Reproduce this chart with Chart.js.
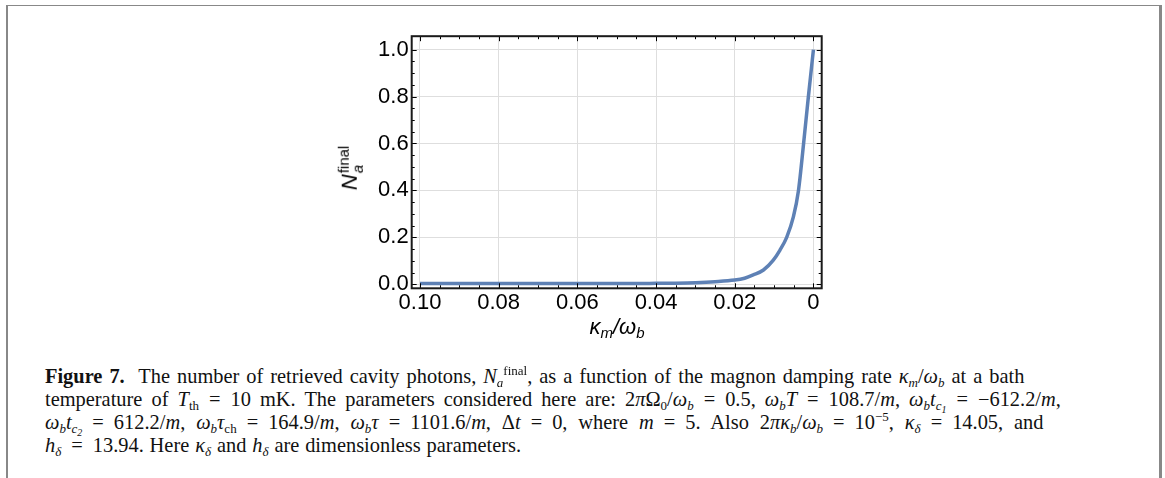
<!DOCTYPE html>
<html lang="en">
<head>
  <meta charset="UTF-8" />
  <title>Figure 7</title>
  <script src="https://cdn.jsdelivr.net/npm/chart.js"></script>
  <style>
    body {
      margin: 0;
      width: 1165px;
      height: 478px;
      overflow: hidden;
      background: #fff;
      position: relative;
      font-family: 'Liberation Sans', Arial, sans-serif;
    }
    .page-frame {
      position: absolute;
      left: 6px;
      top: 5px;
      width: 1151px;
      height: 500px;
      border-left: 2px solid #888;
      border-top: 1px solid #888;
      border-right: 3px solid #888;
    }
    #wrap {
      position: absolute;
      left: 300px;
      top: 20px;
      width: 560px;
      height: 300px;
    }
    .axis-title {
      position: absolute;
      white-space: nowrap;
      color: #000;
      line-height: 1;
      transform: translate(-50%, -50%);
    }
    .ytitle {
      left: 351px;
      top: 168px;
      font-size: 22px;
      transform: translate(-50%, -50%) rotate(-90deg);
    }
    .xtitle {
      left: 617px;
      top: 328px;
      font-size: 22px;
      font-style: italic;
    }
    .stack {
      display: inline-block;
      vertical-align: middle;
      line-height: 0.95;
      font-size: 15px;
      margin-left: 1px;
    }
    .stack span { display: block; }
    .xtitle sub { font-size: 15px; vertical-align: -4px; }
    .caption {
      position: absolute;
      left: 45px;
      top: 365px;
      font-family: 'Liberation Serif', 'Times New Roman', serif;
      font-size: 20.4px;
      line-height: 23px;
      color: #111;
    }
    .caption div { white-space: nowrap; }
    .caption .l1 { word-spacing: 1.9px; }
    .caption .l2 { word-spacing: 4px; }
    .caption .l3 { word-spacing: 5.8px; }
    .caption .l4 { word-spacing: 0.8px; }
    .caption sub, .caption sup { font-size: 13px; line-height: 0; position: relative; vertical-align: baseline; word-spacing: 0; }
    .caption sub { top: 4px; }
    .caption sup { top: -8px; }
    .caption sub sub { font-size: 10px; top: 3px; }
    .eq { margin: 0 10px; }
  </style>
</head>
<body>
  <div class="page-frame"></div>
  <div id="wrap"><canvas id="plot" width="560" height="300"></canvas></div>

  <div class="axis-title ytitle"><i>N</i><span class="stack"><span>final</span><span><i>a</i></span></span></div>
  <div class="axis-title xtitle">κ<sub>m</sub>/ω<sub>b</sub></div>

  <div class="caption">
    <div class="l1"><b>Figure 7.</b>&nbsp; The number of retrieved cavity photons, <i>N<sub>a</sub></i><sup>final</sup>, as a function of the magnon damping rate <i>κ<sub>m</sub></i>/<i>ω<sub>b</sub></i> at a bath</div>
    <div class="l2">temperature of <i>T</i><sub>th</sub><span class="eq">=</span>10 mK. The parameters considered here are: 2<i>π</i>Ω<sub>0</sub>/<i>ω<sub>b</sub></i><span class="eq">=</span>0.5, <i>ω<sub>b</sub>T</i><span class="eq">=</span>108.7/<i>m</i>, <i>ω<sub>b</sub>t<sub>c<sub>1</sub></sub></i><span class="eq">=</span>−612.2/<i>m</i>,</div>
    <div class="l3"><i>ω<sub>b</sub>t<sub>c<sub>2</sub></sub></i><span class="eq">=</span>612.2/<i>m</i>, <i>ω<sub>b</sub>τ</i><sub>ch</sub><span class="eq">=</span>164.9/<i>m</i>, <i>ω<sub>b</sub>τ</i><span class="eq">=</span>1101.6/<i>m</i>, Δ<i>t</i><span class="eq">=</span>0, where <i>m</i><span class="eq">=</span>5. Also 2<i>πκ<sub>b</sub></i>/<i>ω<sub>b</sub></i><span class="eq">=</span>10<sup>−5</sup>, <i>κ<sub>δ</sub></i><span class="eq">=</span>14.05, and</div>
    <div class="l4"><i>h<sub>δ</sub></i><span class="eq">=</span>13.94. Here <i>κ<sub>δ</sub></i> and <i>h<sub>δ</sub></i> are dimensionless parameters.</div>
  </div>

  <script>
    // kappa_m / omega_b  vs  N_a^final
    const kappa = [0.100, 0.090, 0.080, 0.070, 0.060, 0.050, 0.045, 0.040, 0.035, 0.030, 0.025, 0.020,
                   0.0175, 0.0153, 0.0127, 0.0102, 0.0085, 0.0068, 0.0051, 0.0038, 0.0025, 0.0013, 0.0];
    const photons = [0.003, 0.003, 0.003, 0.003, 0.003, 0.003, 0.003, 0.004, 0.005, 0.007, 0.011, 0.018,
                     0.026, 0.040, 0.061, 0.103, 0.146, 0.200, 0.287, 0.400, 0.600, 0.797, 1.0];

    const xTicks = [0, 0.02, 0.04, 0.06, 0.08, 0.10];
    const xTickLabels = ['0', '0.02', '0.04', '0.06', '0.08', '0.10'];
    const yTicks = [0, 0.2, 0.4, 0.6, 0.8, 1.0];
    const yTickLabels = ['0.0', '0.2', '0.4', '0.6', '0.8', '1.0'];

    const xMinor = [];
    for (let i = 0; i <= 20; i++) xMinor.push(i * 0.005);
    const yMinor = [];
    for (let i = 0; i <= 20; i++) yMinor.push(i * 0.05);

    // frame + inward ticks on all four sides
    const frameTicks = {
      id: 'frameTicks',
      afterDatasetsDraw(chart) {
        const { ctx, chartArea: a, scales: { x, y } } = chart;
        ctx.save();
        ctx.strokeStyle = '#000';
        ctx.lineWidth = 1;
        ctx.beginPath();
        xMinor.forEach((v, i) => {
          const p = Math.round(x.getPixelForValue(v)) + 0.5;
          const len = i % 4 === 0 ? 5 : 3;
          ctx.moveTo(p, a.bottom); ctx.lineTo(p, a.bottom - len);
          ctx.moveTo(p, a.top); ctx.lineTo(p, a.top + len);
        });
        yMinor.forEach((v, i) => {
          const p = Math.round(y.getPixelForValue(v)) + 0.5;
          const len = i % 4 === 0 ? 5 : 3;
          ctx.moveTo(a.left, p); ctx.lineTo(a.left + len, p);
          ctx.moveTo(a.right, p); ctx.lineTo(a.right - len, p);
        });
        ctx.stroke();
        ctx.lineWidth = 2;
        ctx.strokeStyle = '#1a1a1a';
        ctx.strokeRect(a.left, a.top, a.right - a.left, a.bottom - a.top);
        ctx.restore();
      }
    };

    const tickFont = { family: "'Liberation Sans', Arial, sans-serif", size: 22 };

    new Chart(document.getElementById('plot'), {
      type: 'line',
      data: {
        datasets: [{
          data: kappa.map((k, i) => ({ x: k, y: photons[i] })),
          borderColor: '#5e81b5',
          borderWidth: 3.5,
          pointRadius: 0,
          fill: false,
          cubicInterpolationMode: 'monotone'
        }]
      },
      options: {
        responsive: false,
        animation: false,
        devicePixelRatio: 1,
        layout: { padding: { top: 15.7, right: 38.3, left: 0, bottom: 0 } },
        plugins: { legend: { display: false }, tooltip: { enabled: false } },
        scales: {
          x: {
            type: 'linear',
            reverse: true,
            min: -0.0021,
            max: 0.1021,
            afterBuildTicks: s => { s.ticks = xTicks.map(v => ({ value: v })); },
            afterFit: s => { s.height = 31.7; },
            ticks: {
              font: tickFont,
              color: '#000',
              padding: 1,
              maxRotation: 0,
              callback: (v) => xTickLabels[xTicks.indexOf(v)]
            },
            grid: { color: '#dedede', lineWidth: 1, drawTicks: false },
            border: { display: false }
          },
          y: {
            min: -0.017,
            max: 1.057,
            afterBuildTicks: s => { s.ticks = yTicks.map(v => ({ value: v })); },
            afterFit: s => { s.width = 111.7; },
            ticks: {
              font: tickFont,
              color: '#000',
              padding: 3,
              callback: (v) => yTickLabels[yTicks.indexOf(v)]
            },
            grid: { color: '#dedede', lineWidth: 1, drawTicks: false },
            border: { display: false }
          }
        }
      },
      plugins: [frameTicks]
    });
  </script>
</body>
</html>
